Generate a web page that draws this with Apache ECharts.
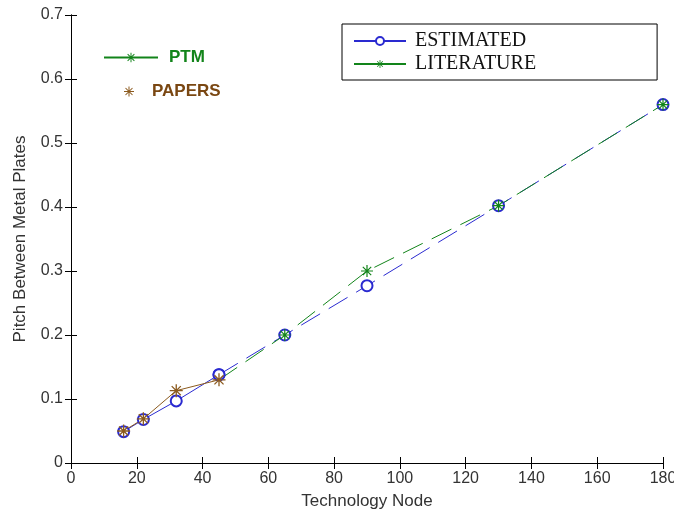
<!DOCTYPE html>
<html>
<head>
<meta charset="utf-8">
<script src="https://cdn.jsdelivr.net/npm/echarts@6/dist/echarts.min.js"></script>
<style>
  html, body { margin: 0; padding: 0; background: #fff; }
  #chart { width: 674px; height: 512px; }
</style>
</head>
<body>
<div id="chart"></div>
<script>
// 数据
var estNodes = [16, 22, 32, 45, 65, 90, 130, 180];
var estValues = [0.049, 0.068, 0.097, 0.138, 0.2, 0.277, 0.402, 0.56];
var litNodes = [45, 65, 90, 130, 180];
var litValues = [0.13, 0.2, 0.3, 0.402, 0.56];
var paperNodes = [16, 22, 32, 45];
var paperValues = [0.05, 0.069, 0.113, 0.13];
var xTicks = [0, 180, 20];   // min, max, interval
var yTicks = [0, 0.7, 0.1];

var blue = '#2a2ad0', green = '#12841a', brown = '#8b5a1e';
// 星号 (asterisk) 标记
var star = 'path://M-1,-10L1,-10L1,10L-1,10Z M-10,-1L10,-1L10,1L-10,1Z ' +
  'M-7.7,-6.3L-6.3,-7.7L7.7,6.3L6.3,7.7Z M6.3,-7.7L7.7,-6.3L-6.3,7.7L-7.7,6.3Z';

function pairs(xs, ys) {
  return xs.map(function (x, i) { return [x, ys[i]]; });
}

var estAll = pairs(estNodes, estValues);
var litData = pairs(litNodes, litValues);
litData[0] = { value: litData[0], symbol: 'none' };

var myChart = echarts.init(document.getElementById('chart'));
var font = 'Liberation Sans, Arial, sans-serif';
var option = {
  animation: false,
  grid: { left: 71, right: 11, top: 15, bottom: 49, outerBoundsMode: 'none', containLabel: false },
  xAxis: [{
    type: 'value', min: xTicks[0], max: xTicks[1], interval: xTicks[2],
    name: 'Technology Node', nameLocation: 'middle', nameGap: 30,
    nameTextStyle: { fontFamily: font, fontSize: 17, color: '#333' },
    axisLine: { lineStyle: { color: '#000', width: 1 } },
    axisTick: { inside: true, length: 6, lineStyle: { color: '#000' } },
    axisLabel: { margin: 8, fontFamily: font, fontSize: 16, color: '#333' },
    splitLine: { show: false }
  }, {
    type: 'value', position: 'top', min: xTicks[0], max: xTicks[1], interval: xTicks[2],
    axisLine: { lineStyle: { color: '#000', width: 1 } },
    axisTick: { inside: true, length: 6, lineStyle: { color: '#000' } },
    axisLabel: { show: false }, splitLine: { show: false }
  }],
  yAxis: [{
    type: 'value', min: yTicks[0], max: yTicks[1], interval: yTicks[2],
    name: 'Pitch Between Metal Plates', nameLocation: 'middle', nameGap: 42,
    nameTextStyle: { fontFamily: font, fontSize: 17, color: '#333' },
    axisLine: { show: true, lineStyle: { color: '#000', width: 1 } },
    axisTick: { show: true, inside: true, length: 6, lineStyle: { color: '#000' } },
    axisLabel: { margin: 8, fontFamily: font, fontSize: 16, color: '#333' },
    splitLine: { show: false }
  }, {
    type: 'value', position: 'right', min: yTicks[0], max: yTicks[1], interval: yTicks[2],
    axisLine: { show: true, lineStyle: { color: '#000', width: 1 } },
    axisTick: { show: true, inside: true, length: 6, lineStyle: { color: '#000' } },
    axisLabel: { show: false }, splitLine: { show: false }
  }],
  legend: [{
    data: ['ESTIMATED', 'LITERATURE'],
    orient: 'vertical', left: 342, top: 24,
    borderColor: '#000', borderWidth: 1, borderRadius: 0,
    padding: [7, 121, 6, 11], itemGap: 3,
    itemWidth: 52, itemHeight: 10,
    lineStyle: { type: 'solid' },
    selectedMode: false,
    textStyle: { fontFamily: 'Liberation Serif, Times New Roman, serif', fontSize: 20, color: '#111', padding: [0, 0, 0, 4] }
  }, {
    data: ['PTM'],
    left: 98, top: 44, itemWidth: 54, itemHeight: 12,
    selectedMode: false,
    textStyle: { fontFamily: font, fontSize: 17, fontWeight: 'bold', color: green, padding: [0, 0, 0, 6] }
  }, {
    data: [{ name: 'PAPERS', icon: star }],
    left: 119, top: 78, itemWidth: 10, itemHeight: 10,
    selectedMode: false,
    textStyle: { fontFamily: font, fontSize: 17, fontWeight: 'bold', color: '#7a4712', padding: [0, 0, 0, 13] }
  }],
  series: [{
    name: 'ESTIMATED', type: 'line',
    data: estAll.slice(3),
    symbol: 'emptyCircle', symbolSize: 11,
    lineStyle: { color: blue, width: 1, type: [22, 10] },
    itemStyle: { color: blue, borderWidth: 1 }
  }, {
    name: 'ESTIMATED-small', type: 'line',
    data: estAll.slice(0, 4),
    symbol: 'emptyCircle', symbolSize: 11,
    lineStyle: { color: blue, width: 1 },
    itemStyle: { color: blue, borderWidth: 1 }
  }, {
    name: 'LITERATURE', type: 'line',
    data: litData,
    symbol: star, symbolSize: 12,
    lineStyle: { color: green, width: 1, type: [22, 10] },
    itemStyle: { color: green }
  }, {
    name: 'PTM', type: 'line',
    data: [],
    symbol: star, symbolSize: 9,
    lineStyle: { color: green, width: 1 },
    itemStyle: { color: green }
  }, {
    name: 'PAPERS', type: 'line',
    data: pairs(paperNodes, paperValues),
    symbol: star, symbolSize: 13, z: 3,
    lineStyle: { color: brown, width: 1 },
    itemStyle: { color: brown }
  }]
};
myChart.setOption(option);
</script>
</body>
</html>
